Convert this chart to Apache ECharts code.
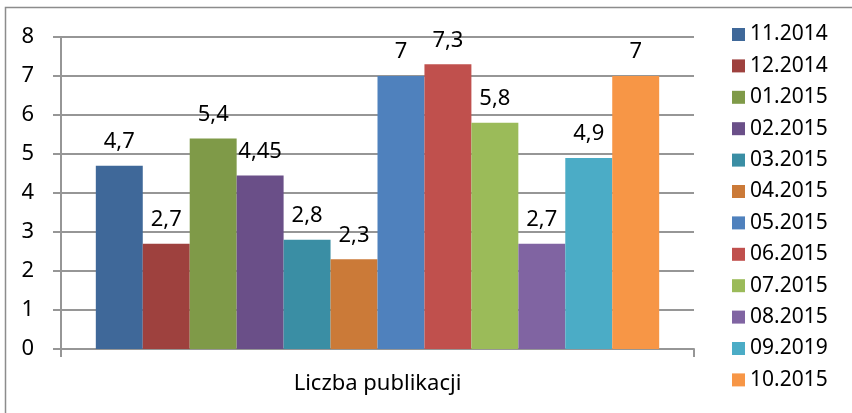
<!DOCTYPE html>
<html>
<head>
<meta charset="utf-8">
<script src="https://cdn.jsdelivr.net/npm/echarts@6/dist/echarts.min.js"></script>
<style>
  html, body { margin: 0; padding: 0; background: #fff; }
  #chart { width: 852px; height: 413px; }
</style>
</head>
<body>
<div id="chart"></div>
<script>
  // dane
  const categories = ['Liczba publikacji'];
  const months = ['11.2014', '12.2014', '01.2015', '02.2015', '03.2015', '04.2015',
                  '05.2015', '06.2015', '07.2015', '08.2015', '09.2019', '10.2015'];
  const values = [4.7, 2.7, 5.4, 4.45, 2.8, 2.3, 7, 7.3, 5.8, 2.7, 4.9, 7];
  const colors = ['#3F6899', '#9E413E', '#7F9A48', '#6A4F88', '#3A8EA4', '#CB7A38',
                  '#4F81BD', '#C0504D', '#9BBB59', '#8064A2', '#4BACC6', '#F79646'];
  const yTicks = [0, 1, 2, 3, 4, 5, 6, 7, 8];

  const font = 'Noto Sans';
  const chart = echarts.init(document.getElementById('chart'));

  const series = months.map((m, i) => ({
    name: m,
    type: 'bar',
    data: [values[i]],
    barGap: 0,
    barCategoryGap: '11%',
    itemStyle: { color: colors[i] },
    label: {
      show: true,
      position: 'top',
      distance: 13,
      color: '#000',
      fontFamily: font,
      fontSize: 22,
      formatter: p => String(p.value).replace('.', ',')
    }
  }));

  chart.setOption({
    animation: false,
    color: colors,
    graphic: [{
      type: 'rect',
      shape: { x: 5.5, y: 7.5, width: 900, height: 500 },
      style: { fill: 'none', stroke: '#8c8c8c', lineWidth: 1.5 },
      silent: true
    }],
    grid: { left: 61, right: 158, top: 37, bottom: 64 },
    legend: {
      orient: 'vertical',
      left: 732,
      top: 24,
      padding: 0,
      itemWidth: 13,
      itemHeight: 13,
      itemGap: 10.4,
      icon: 'rect',
      textStyle: { fontFamily: font, fontSize: 21, color: '#000', lineHeight: 20 },
      data: months
    },
    xAxis: {
      type: 'category',
      data: categories,
      axisLine: { lineStyle: { color: '#969696', width: 2 } },
      axisTick: { show: true, length: 8, lineStyle: { color: '#969696', width: 2 } },
      axisLabel: { fontFamily: font, fontSize: 22, color: '#000', margin: 24 }
    },
    yAxis: {
      type: 'value',
      min: yTicks[0],
      max: yTicks[yTicks.length - 1],
      interval: 1,
      axisLine: { show: true, lineStyle: { color: '#969696', width: 2 } },
      axisTick: { show: true, length: 8, lineStyle: { color: '#969696', width: 2 } },
      splitLine: { lineStyle: { color: '#969696', width: 2 } },
      axisLabel: { fontFamily: font, fontSize: 22, color: '#000', margin: 27 }
    },
    series: series
  });
</script>
</body>
</html>
